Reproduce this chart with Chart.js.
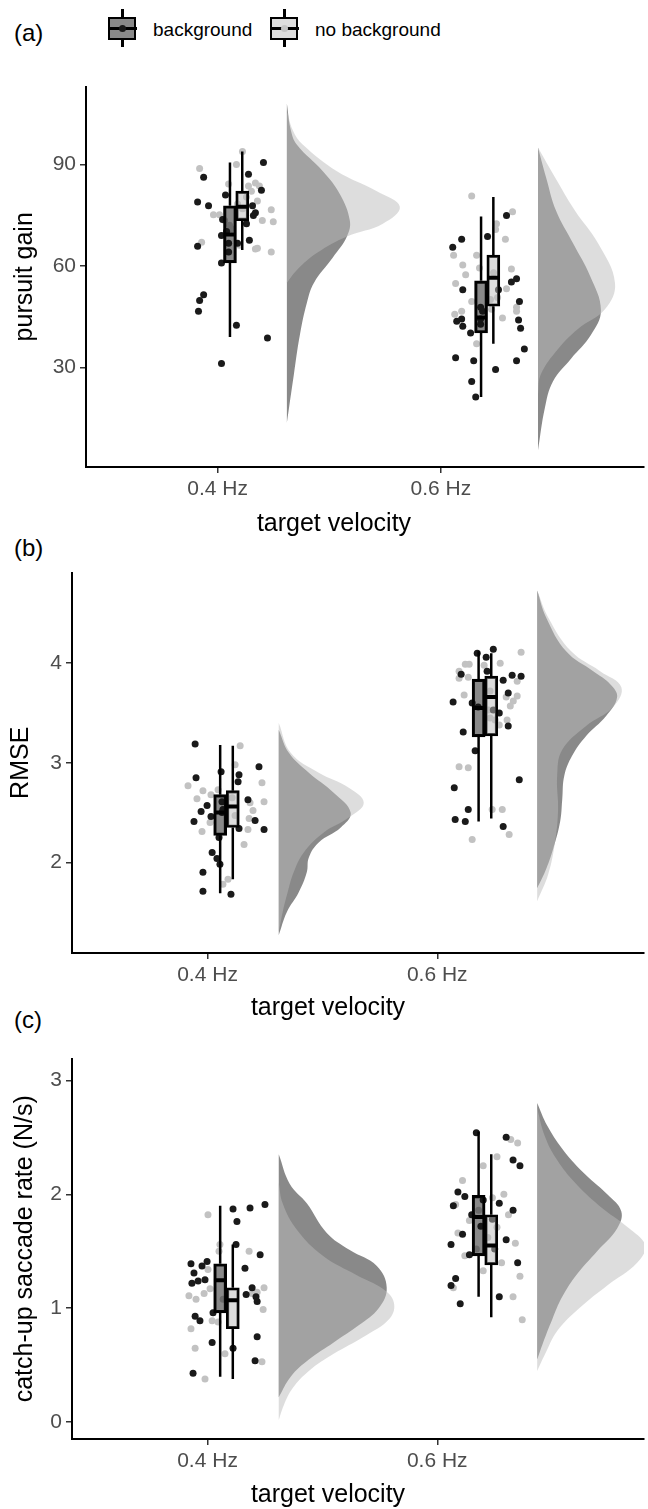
<!DOCTYPE html>
<html lang="en">
<head>
<meta charset="utf-8">
<style>
    body {
        margin: 0;
        background: #fff;
        font-family: 'Liberation Sans', Arial, sans-serif;
    }

    #page {
        position: relative;
        width: 648px;
        height: 1509px;
        overflow: hidden;
    }

    .panel {
        position: absolute;
        left: 0;
    }

    .tag {
        position: absolute;
        left: 14px;
        font-size: 24px;
        line-height: 28px;
        color: #000;
    }

    .xTitle {
        position: absolute;
        width: 300px;
        margin-left: -150px;
        text-align: center;
        font-size: 25px;
        line-height: 30px;
        color: #000;
    }

    .key {
        position: absolute;
        top: 9px;
        width: 29px;
        height: 38px;
    }
    .key .whisker { position: absolute; left: 13px; top: 0; width: 3px; height: 38px; background: #000; }
    .key .box { position: absolute; left: 0; top: 8px; width: 24px; height: 19px; border: 2.5px solid #000; }
    .key .median { position: absolute; left: 0; top: 18px; width: 29px; height: 3px; background: #000; }
    .key .dot { position: absolute; left: 11px; top: 16px; width: 7px; height: 7px; border-radius: 50%; }

    .keyLabel {
        position: absolute;
        top: 18px;
        font-size: 19px;
        line-height: 24px;
        color: #000;
    }
</style>
</head>
<body>

<div id="page">
    <div class="tag" style="top:19px">(a)</div>
    <div class="tag" style="top:534px">(b)</div>
    <div class="tag" style="top:1006px">(c)</div>

    <!-- legend -->
    <div class="key" style="left:108px">
        <div class="whisker"></div>
        <div class="box" style="background:#898989"></div>
        <div class="median"></div>
        <div class="dot" style="background:#1a1a1a"></div>
    </div>
    <div class="keyLabel" style="left:153px">background</div>
    <div class="key" style="left:270px">
        <div class="whisker"></div>
        <div class="box" style="background:#dddddd"></div>
        <div class="median"></div>
        <div class="dot" style="background:#c4c4c4"></div>
    </div>
    <div class="keyLabel" style="left:315px">no background</div>

    <canvas class="panel" id="gainChart" width="648" height="466" style="top:70px"></canvas>
    <canvas class="panel" id="rmseChart" width="648" height="466" style="top:556px"></canvas>
    <canvas class="panel" id="saccChart" width="648" height="466" style="top:1042px"></canvas>

    <!-- x titles sit centred between the two categories, as in the original -->
    <div class="xTitle" style="left:334px; top:507px">target velocity</div>
    <div class="xTitle" style="left:328px; top:991px">target velocity</div>
    <div class="xTitle" style="left:328px; top:1478px">target velocity</div>
</div>

<script src="https://cdn.jsdelivr.net/npm/chart.js"></script>
<script>
    // ---- data ----
    const velocityLabels = ['0.4 Hz', '0.6 Hz'];

    // (a) pursuit gain
    const gainTicks = [30, 60, 90];
    // boxes: [lower whisker, q1, median, q3, upper whisker] for 0.4 Hz, 0.6 Hz
    const gainBoxBg = [[39, 60.9, 69.3, 77.8, 90.6], [21.3, 40.2, 44.8, 55.6, 74.6]];
    const gainBoxNoBg = [[64.7, 73.4, 77.5, 82.1, 93.8], [37, 48.1, 56.5, 63.2, 80.4]];
    // jittered points [x, value]
    const gainPtsBg = [
        [1.205, 90.6], [0.937, 86.2], [0.910, 78.9], [0.959, 77.8], [1.035, 81], [1.138, 87.1],
        [1.196, 82.4], [1.156, 77.8], [1.169, 75.7], [1.160, 74.9], [1.022, 73.7], [1.129, 72.5],
        [1.040, 70.2], [1.017, 69], [0.910, 65.8], [1.142, 67.6], [1.049, 66.7], [1.089, 66.7],
        [1.049, 64.1], [1.017, 60.9], [0.937, 51.5], [0.919, 49.8], [0.914, 46.6], [1.084, 42.5],
        [1.223, 38.7], [1.017, 31.2],
        [2.294, 74.9], [2.093, 67.9], [2.053, 65.5], [2.209, 68.7], [2.339, 56.2], [2.316, 55.3],
        [2.098, 53], [2.352, 49.5], [2.178, 47.8], [2.187, 46.6], [2.093, 44.3], [2.071, 43.7],
        [2.348, 44], [2.098, 42.2], [2.357, 41.6], [2.133, 40.2], [2.178, 42.8], [2.374, 35.5],
        [2.066, 32.9], [2.147, 32], [2.339, 32], [2.245, 29.4], [2.138, 25.9], [2.156, 21.3],
        [2.258, 53], [2.178, 44.3]
    ];
    const gainPtsNoBg = [
        [1.111, 93.8], [0.919, 88.8], [1.084, 90], [1.049, 84.2], [1.138, 83.6], [1.169, 84.5],
        [1.187, 83.6], [1.151, 82.1], [1.129, 80.4], [1.178, 79.2], [1.240, 76.6], [0.981, 75.1],
        [1.008, 75.1], [1.200, 73.4], [1.249, 73.1], [1.053, 72], [1.031, 73.4], [0.928, 67],
        [1.169, 65], [1.178, 65.2], [1.240, 64.1], [1.098, 66.1], [1.062, 71], [1.089, 78.3],
        [1.111, 76.9],
        [2.138, 80.7], [2.321, 76], [2.249, 72.5], [2.245, 70.8], [2.289, 67.9], [2.057, 63.2],
        [2.160, 63.2], [2.098, 60.3], [2.173, 59.4], [2.111, 57.4], [2.316, 59.1], [2.236, 58],
        [2.066, 54.8], [2.294, 53.3], [2.254, 50.7], [2.138, 49.5], [2.339, 47.8], [2.339, 46.6],
        [2.062, 45.7], [2.093, 46.6], [2.276, 44.6], [2.160, 37], [2.222, 50.1], [2.227, 47.2]
    ];
    // half-violin outlines [value, half width in x units]
    const gainDensBg = [
        [[108, 0], [100, 0.018], [95.8, 0.045], [88, 0.161], [81.3, 0.237], [73.4, 0.282], [68.7, 0.269],
         [62.5, 0.206], [55, 0.121], [49.2, 0.090], [39.5, 0.058], [27.8, 0.031], [13.7, 0]],
        [[95, 0], [86.2, 0.036], [76.3, 0.081], [66.7, 0.157], [57.1, 0.233], [46.9, 0.282], [39.6, 0.237],
         [32.6, 0.148], [25.9, 0.067], [18.1, 0.031], [5.5, 0]]
    ];
    const gainDensNoBg = [
        [[106, 0], [100, 0.027], [95.8, 0.072], [88, 0.224], [82.1, 0.403], [77.5, 0.506], [72.5, 0.430],
         [68.7, 0.269], [63.8, 0.134], [58.8, 0.045], [55, 0]],
        [[95, 0], [86.2, 0.076], [76.3, 0.166], [66.7, 0.269], [55, 0.345], [47.2, 0.300], [41.4, 0.179],
         [35.5, 0.090], [28, 0.013], [22, 0]]
    ];

    // (b) RMSE
    const rmseTicks = [2, 3, 4];
    const rmseBoxBg = [[1.69, 2.27, 2.50, 2.68, 3.18], [2.41, 3.26, 3.55, 3.84, 4.12]];
    const rmseBoxNoBg = [[1.83, 2.35, 2.56, 2.72, 3.17], [2.44, 3.27, 3.66, 3.87, 4.10]];
    const rmsePtsBg = [
        [0.946, 3.19], [0.950, 2.85], [1.059, 2.91], [1.137, 2.88], [1.133, 2.81], [1.224, 2.96],
        [0.998, 2.57], [0.972, 2.51], [0.941, 2.41], [1.015, 2.46], [1.063, 2.61], [1.067, 2.53],
        [1.176, 2.63], [1.207, 2.42], [1.137, 2.34], [1.246, 2.33], [1.050, 2.25], [1.020, 2.10],
        [1.041, 2.04], [1.054, 1.98], [0.980, 1.90], [0.980, 1.71], [1.102, 1.68], [1.063, 2.50],
        [2.174, 4.10], [2.244, 4.14], [2.213, 4.06], [2.217, 3.92], [2.104, 3.89], [2.326, 3.88],
        [2.365, 3.87], [2.287, 3.83], [2.309, 3.70], [2.069, 3.61], [2.152, 3.60], [2.270, 3.50],
        [2.309, 3.37], [2.113, 3.31], [2.165, 3.12], [2.357, 2.83], [2.074, 2.75], [2.135, 2.53],
        [2.078, 2.43], [2.122, 2.41], [2.287, 2.36], [2.178, 3.56], [2.244, 3.53]
    ];
    const rmsePtsNoBg = [
        [1.142, 3.17], [1.120, 2.98], [0.915, 2.77], [0.980, 2.72], [0.954, 2.64], [1.015, 2.68],
        [1.237, 2.80], [1.185, 2.60], [1.246, 2.61], [1.198, 2.52], [1.181, 2.44], [1.011, 2.40],
        [1.176, 2.33], [0.976, 2.31], [1.159, 2.18], [1.089, 1.83], [1.067, 1.78], [1.107, 2.65],
        [1.120, 2.47], [1.046, 2.73],
        [2.365, 4.11], [2.122, 3.99], [2.139, 3.99], [2.204, 3.98], [2.274, 4.00], [2.095, 3.92],
        [2.095, 3.85], [2.135, 3.86], [2.348, 3.82], [2.117, 3.68], [2.348, 3.67], [2.300, 3.66],
        [2.331, 3.62], [2.318, 3.57], [2.222, 3.53], [2.230, 3.45], [2.252, 3.43], [2.304, 3.43],
        [2.270, 3.38], [2.095, 2.96], [2.135, 2.95], [2.239, 2.53], [2.283, 2.53], [2.313, 2.28],
        [2.152, 2.23], [2.230, 3.72]
    ];
    const rmseDensBg = [
        [[3.33, 0], [3.1, 0.044], [2.9, 0.131], [2.7, 0.239], [2.5, 0.313], [2.35, 0.270], [2.2, 0.174],
         [2.05, 0.131], [1.9, 0.122], [1.7, 0.087], [1.5, 0.035], [1.27, 0]],
        [[4.73, 0], [4.46, 0.039], [4.12, 0.126], [3.92, 0.244], [3.79, 0.318], [3.66, 0.348], [3.47, 0.300],
         [3.27, 0.213], [3.07, 0.152], [2.87, 0.118], [2.63, 0.109], [2.41, 0.100], [2.14, 0.070],
         [1.91, 0.035], [1.74, 0]]
    ];
    const rmseDensNoBg = [
        [[3.4, 0], [3.1, 0.052], [2.9, 0.174], [2.75, 0.305], [2.6, 0.370], [2.45, 0.305], [2.3, 0.196],
         [2.1, 0.109], [1.9, 0.065], [1.7, 0.039], [1.5, 0.017], [1.3, 0]],
        [[4.73, 0], [4.46, 0.048], [4.12, 0.148], [3.92, 0.274], [3.76, 0.366], [3.56, 0.331], [3.37, 0.213],
         [3.13, 0.109], [2.87, 0.087], [2.53, 0.091], [2.21, 0.078], [1.88, 0.048], [1.61, 0]]
    ];

    // (c) catch-up saccade rate
    const saccTicks = [0, 1, 2, 3];
    const saccBoxBg = [[0.40, 0.96, 1.245, 1.39, 1.90], [1.10, 1.46, 1.80, 1.99, 2.55]];
    const saccBoxNoBg = [[0.38, 0.82, 1.07, 1.18, 1.56], [0.92, 1.38, 1.55, 1.82, 2.35]];
    const saccPtsBg = [
        [1.111, 1.87], [1.185, 1.88], [1.250, 1.91], [1.128, 1.76], [1.124, 1.56], [1.229, 1.47],
        [0.928, 1.39], [0.976, 1.37], [0.998, 1.41], [0.941, 1.31], [1.163, 1.35], [0.959, 1.24],
        [0.932, 1.22], [0.989, 1.25], [1.194, 1.18], [1.168, 1.12], [1.211, 1.10], [1.216, 1.06],
        [0.946, 0.93], [0.967, 0.89], [1.024, 0.96], [1.216, 0.75], [0.937, 0.43], [1.111, 0.65],
        [1.020, 0.70], [1.207, 0.54],
        [2.17, 2.54], [2.30, 2.50], [2.33, 2.30], [2.36, 2.25], [2.09, 2.02], [2.12, 1.98], [2.20, 1.95],
        [2.27, 1.92], [2.07, 1.90], [2.33, 1.86], [2.15, 1.82], [2.24, 1.78], [2.19, 1.72], [2.11, 1.65],
        [2.30, 1.60], [2.06, 1.56], [2.25, 1.52], [2.14, 1.47], [2.35, 1.40], [2.08, 1.26], [2.06, 1.20],
        [2.27, 1.10], [2.10, 1.04]
    ];
    const saccPtsNoBg = [
        [1.002, 1.82], [1.054, 1.56], [1.181, 1.50], [1.050, 1.50], [1.246, 1.18], [1.216, 1.14],
        [0.919, 1.11], [0.950, 1.08], [0.985, 1.13], [1.011, 1.17], [1.194, 1.13], [1.242, 0.99],
        [1.020, 0.89], [1.046, 0.88], [0.928, 0.82], [1.002, 1.34], [1.068, 1.08], [0.946, 0.65],
        [0.989, 0.38], [1.237, 0.53], [1.076, 0.60],
        [2.32, 2.48], [2.26, 2.33], [2.35, 2.45], [2.20, 2.25], [2.11, 2.12], [2.29, 2.00], [2.24, 1.97],
        [2.08, 1.91], [2.18, 1.86], [2.31, 1.82], [2.14, 1.77], [2.26, 1.71], [2.09, 1.66], [2.22, 1.62],
        [2.34, 1.57], [2.17, 1.52], [2.12, 1.46], [2.28, 1.40], [2.20, 1.33], [2.36, 1.28], [2.07, 1.18],
        [2.33, 1.10], [2.37, 0.90]
    ];
    const saccDensBg = [
        [[2.35, 0], [2.09, 0.048], [1.92, 0.122], [1.66, 0.209], [1.51, 0.309], [1.37, 0.427], [1.18, 0.470],
         [1.0, 0.435], [0.85, 0.348], [0.7, 0.239], [0.55, 0.131], [0.4, 0.052], [0.22, 0]],
        [[2.8, 0], [2.6, 0.044], [2.4, 0.109], [2.2, 0.196], [2.0, 0.305], [1.85, 0.366], [1.7, 0.348],
         [1.5, 0.261], [1.3, 0.174], [1.1, 0.109], [0.9, 0.065], [0.7, 0.026], [0.55, 0]]
    ];
    const saccDensNoBg = [
        [[2.1, 0], [1.92, 0.017], [1.69, 0.078], [1.46, 0.192], [1.29, 0.340], [1.17, 0.453], [1.05, 0.501],
         [0.91, 0.483], [0.75, 0.370], [0.6, 0.239], [0.45, 0.131], [0.3, 0.061], [0.15, 0.022], [0.02, 0]],
        [[2.75, 0], [2.5, 0.035], [2.3, 0.087], [2.1, 0.165], [1.9, 0.270], [1.7, 0.401], [1.55, 0.470],
         [1.4, 0.435], [1.2, 0.305], [1.0, 0.183], [0.8, 0.087], [0.6, 0.035], [0.45, 0]]
    ];

    // ---- layout constants (x axis units: 1 = 0.4 Hz, 2 = 0.6 Hz) ----
    const BOX_X_BG = [1.055, 2.18];
    const BOX_X_NOBG = [1.11, 2.235];
    const DENS_BASE = [1.31, 2.435];
    const BOX_HALF = 0.027;

    const DARK = '#1a1a1a';
    const LIGHT = '#c2c2c2';
    const DARK_FILL = 'rgba(20, 20, 20, 0.5)';
    const LIGHT_FILL = 'rgba(187, 187, 187, 0.5)';
    const FONT = "'Liberation Sans', Arial, sans-serif";

    function densityDataset(curve, base, color, order) {
        return {
            type: 'line',
            indexAxis: 'y',
            data: curve.map(([v, w]) => ({ x: base + w, y: v })),
            fill: { value: base },
            backgroundColor: color,
            borderWidth: 0,
            pointRadius: 0,
            tension: 0.4,
            order: order
        };
    }

    function whiskerData(boxes, xs) {
        const out = [];
        boxes.forEach((b, i) => {
            out.push({ x: xs[i], y: b[0] }, { x: xs[i], y: b[1] }, { x: xs[i], y: null });
            out.push({ x: xs[i], y: b[3] }, { x: xs[i], y: b[4] }, { x: xs[i], y: null });
        });
        return out;
    }

    function medianData(boxes, xs) {
        const out = [];
        boxes.forEach((b, i) => {
            out.push({ x: xs[i] - BOX_HALF, y: b[2] }, { x: xs[i] + BOX_HALF, y: b[2] }, { x: xs[i], y: null });
        });
        return out;
    }

    function buildPanel(id, cfg) {
        const datasets = [];

        // half violins
        [0, 1].forEach(i => {
            datasets.push(densityDataset(cfg.densBg[i], DENS_BASE[i], DARK_FILL, 60));
            datasets.push(densityDataset(cfg.densNoBg[i], DENS_BASE[i], LIGHT_FILL, 59));
        });

        // raw points
        datasets.push({
            type: 'scatter',
            data: cfg.ptsNoBg.map(([x, y]) => ({ x, y })),
            backgroundColor: LIGHT,
            borderWidth: 0,
            pointRadius: 3.5,
            order: 50
        });
        datasets.push({
            type: 'scatter',
            data: cfg.ptsBg.map(([x, y]) => ({ x, y })),
            backgroundColor: DARK,
            borderWidth: 0,
            pointRadius: 3.5,
            order: 49
        });

        // whiskers
        datasets.push({
            type: 'line',
            data: whiskerData(cfg.boxBg, BOX_X_BG).concat(whiskerData(cfg.boxNoBg, BOX_X_NOBG)),
            borderColor: '#000',
            borderWidth: 2.5,
            pointRadius: 0,
            fill: false,
            spanGaps: false,
            order: 40
        });

        // boxes
        datasets.push({
            type: 'bar',
            data: cfg.boxBg.map((b, i) => ({ x: BOX_X_BG[i], y: [b[1], b[3]] })),
            backgroundColor: DARK_FILL,
            borderColor: '#000',
            borderWidth: 2.5,
            borderSkipped: false,
            barThickness: 13,
            grouped: false,
            order: 30
        });
        datasets.push({
            type: 'bar',
            data: cfg.boxNoBg.map((b, i) => ({ x: BOX_X_NOBG[i], y: [b[1], b[3]] })),
            backgroundColor: LIGHT_FILL,
            borderColor: '#000',
            borderWidth: 2.5,
            borderSkipped: false,
            barThickness: 13,
            grouped: false,
            order: 29
        });

        // medians
        datasets.push({
            type: 'line',
            data: medianData(cfg.boxBg, BOX_X_BG).concat(medianData(cfg.boxNoBg, BOX_X_NOBG)),
            borderColor: '#000',
            borderWidth: 4,
            pointRadius: 0,
            fill: false,
            spanGaps: false,
            order: 10
        });

        new Chart(document.getElementById(id).getContext('2d'), {
            type: 'scatter',
            data: { datasets: datasets },
            options: {
                responsive: false,
                animation: false,
                devicePixelRatio: 1,
                layout: { padding: { top: 11, right: 4, left: 0, bottom: 0 } },
                plugins: { legend: { display: false }, tooltip: { enabled: false } },
                scales: {
                    x: {
                        type: 'linear',
                        min: 0.41,
                        max: cfg.xMax,
                        offset: false,
                        afterBuildTicks: axis => { axis.ticks = [{ value: 1 }, { value: 2 }]; },
                        afterFit: axis => { axis.height = 69; },
                        grid: { display: true, offset: false, drawOnChartArea: false, drawTicks: true, tickLength: 6, color: '#333', lineWidth: 1.5 },
                        border: { display: true, color: '#000', width: 2 },
                        ticks: {
                            autoSkip: false,
                            maxRotation: 0,
                            padding: 4,
                            color: '#4d4d4d',
                            font: { family: FONT, size: 21 },
                            callback: v => velocityLabels[v - 1]
                        },
                        title: { display: false }
                    },
                    y: {
                        type: 'linear',
                        min: cfg.yMin,
                        max: cfg.yMax,
                        offset: false,
                        beginAtZero: false,
                        afterBuildTicks: axis => { axis.ticks = cfg.yTicks.map(v => ({ value: v })); },
                        afterFit: axis => { axis.width = cfg.yWidth; },
                        grid: { display: true, offset: false, drawOnChartArea: false, drawTicks: true, tickLength: 6, color: '#333', lineWidth: 1.5 },
                        border: { display: true, color: '#000', width: 2 },
                        ticks: {
                            padding: 4,
                            color: '#4d4d4d',
                            font: { family: FONT, size: 21 }
                        },
                        title: {
                            display: true,
                            text: cfg.yTitle,
                            color: '#000',
                            font: { family: FONT, size: 25 },
                            padding: { top: cfg.titlePad, bottom: 0 }
                        }
                    }
                }
            }
        });
    }

    buildPanel('gainChart', {
        yMin: 0.6, yMax: 113, yTicks: gainTicks, yTitle: 'pursuit gain', yWidth: 86, titlePad: 10, xMax: 2.91,
        boxBg: gainBoxBg, boxNoBg: gainBoxNoBg, ptsBg: gainPtsBg, ptsNoBg: gainPtsNoBg,
        densBg: gainDensBg, densNoBg: gainDensNoBg
    });
    buildPanel('rmseChart', {
        yMin: 1.09, yMax: 4.91, yTicks: rmseTicks, yTitle: 'RMSE', yWidth: 72, titlePad: 6, xMax: 2.9,
        boxBg: rmseBoxBg, boxNoBg: rmseBoxNoBg, ptsBg: rmsePtsBg, ptsNoBg: rmsePtsNoBg,
        densBg: rmseDensBg, densNoBg: rmseDensNoBg
    });
    buildPanel('saccChart', {
        yMin: -0.147, yMax: 3.19, yTicks: saccTicks, yTitle: 'catch-up saccade rate (N/s)', yWidth: 72, titlePad: 10, xMax: 2.9,
        boxBg: saccBoxBg, boxNoBg: saccBoxNoBg, ptsBg: saccPtsBg, ptsNoBg: saccPtsNoBg,
        densBg: saccDensBg, densNoBg: saccDensNoBg
    });
</script>

</body>
</html>
